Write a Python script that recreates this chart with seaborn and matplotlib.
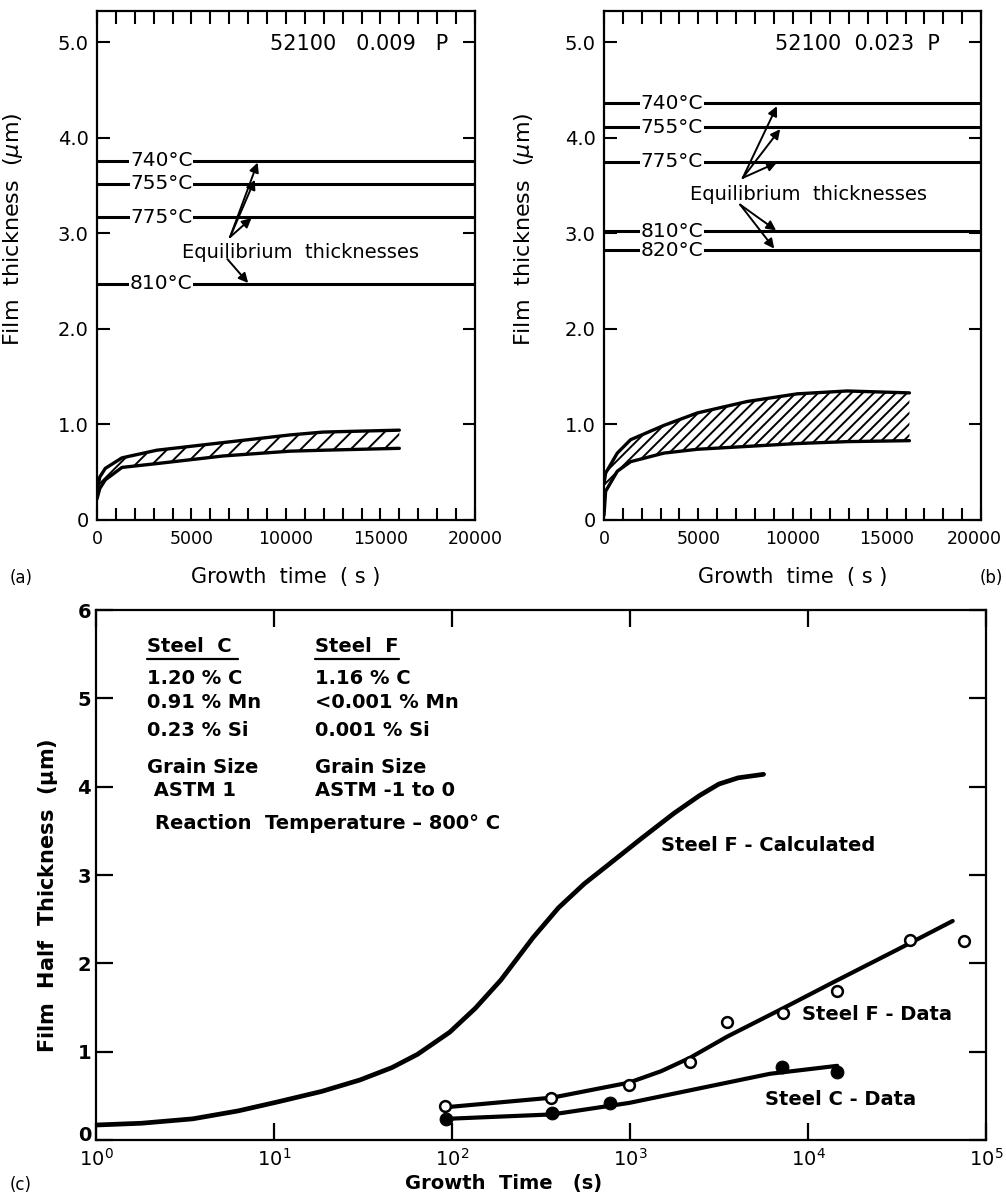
import numpy as np
import matplotlib
matplotlib.use("Agg")
import matplotlib.pyplot as plt
import matplotlib.transforms as mtransforms
import seaborn as sns
from matplotlib.ticker import MultipleLocator, FixedLocator, LogLocator, NullLocator

# ---- panel (a): 52100, 0.009 P ----
a_temps = ["740°C", "755°C", "775°C", "810°C"]
a_equil = [3.76, 3.52, 3.17, 2.47]
a_time = [0, 150, 440, 1320, 3160, 6680, 10210, 11970, 16000]
a_upper = [0.31, 0.45, 0.54, 0.65, 0.73, 0.81, 0.89, 0.92, 0.94]
a_lower = [0.22, 0.33, 0.42, 0.55, 0.59, 0.67, 0.72, 0.73, 0.75]

# ---- panel (b): 52100, 0.023 P ----
b_temps = ["740°C", "755°C", "775°C", "810°C", "820°C"]
b_equil = [4.36, 4.11, 3.75, 3.02, 2.82]
b_time = [0, 85, 705, 1410, 3180, 4950, 7600, 10250, 12900, 16200]
b_upper = [0.38, 0.49, 0.70, 0.84, 0.99, 1.12, 1.24, 1.32, 1.35, 1.33]
b_lower = [0.05, 0.30, 0.51, 0.61, 0.70, 0.74, 0.77, 0.80, 0.82, 0.83]

# ---- panel (c): steels C and F at 800 C ----
calc_time = [1.0, 1.8, 3.5, 6.3, 10.4, 18.5, 30.4, 46, 64, 97, 135, 188, 285,
             397, 553, 771, 1170, 1770, 2460, 3160, 4050, 5630]
calc_half = [0.17, 0.19, 0.24, 0.33, 0.43, 0.55, 0.68, 0.82, 0.97, 1.22, 1.49,
             1.81, 2.29, 2.63, 2.90, 3.13, 3.42, 3.70, 3.90, 4.03, 4.10, 4.14]
f_data_time = [91, 360, 990, 2170, 3510, 7220, 14600, 37300, 75500]
f_data_half = [0.39, 0.48, 0.62, 0.88, 1.34, 1.44, 1.69, 2.27, 2.25]
f_fit_time = [91, 366, 988, 1500, 2170, 3510, 7220, 14000, 32100, 65000]
f_fit_half = [0.37, 0.48, 0.65, 0.78, 0.93, 1.17, 1.49, 1.79, 2.16, 2.48]
c_data_time = [93, 366, 771, 7110, 14600]
c_data_half = [0.24, 0.31, 0.42, 0.83, 0.77]
c_fit_time = [93, 366, 988, 2670, 6120, 14600]
c_fit_half = [0.24, 0.29, 0.42, 0.60, 0.75, 0.84]

# composition table (col C, col F)
steel_rows = [("1.20 % C", "1.16 % C"),
              ("0.91 % Mn", "<0.001 % Mn"),
              ("0.23 % Si", "0.001 % Si")]
grain_rows = [("Grain Size", "Grain Size"), (" ASTM 1", "ASTM -1 to 0")]

# annotation anchors: (label x, text origin, arrow tips)
a_label_x = 3400
a_up_origin, a_up_tips = (7040, 2.96), [(8500, 3.74), (8350, 3.56), (8180, 3.16)]
a_dn_origin, a_dn_tips = (6900, 2.73), [(8000, 2.48)]
b_label_x = 3600
b_up_origin, b_up_tips = (7360, 3.58), [(9170, 4.33), (9345, 4.09), (9170, 3.74)]
b_dn_origin, b_dn_tips = (7220, 3.30), [(9130, 3.03), (9030, 2.84)]

sns.set_style("ticks")
plt.rcParams["font.family"] = ["DejaVu Sans"]
plt.rcParams["hatch.linewidth"] = 1.4
plt.rcParams["axes.linewidth"] = 1.6
plt.rcParams["mathtext.fontset"] = "dejavusans"
for key in ["text.color", "axes.labelcolor", "xtick.color", "ytick.color",
            "axes.edgecolor"]:
    plt.rcParams[key] = "black"

fig = plt.figure(figsize=(10.06, 11.94), dpi=100)
ax_a = fig.add_axes([0.0964, 0.5645, 0.3757, 0.4266])
ax_b = fig.add_axes([0.6004, 0.5645, 0.3748, 0.4266])
ax_c = fig.add_axes([0.0954, 0.0452, 0.8847, 0.4439])


def shift_label(lab, dx_px, dy_px):
    lab.set_transform(lab.get_transform() +
                      mtransforms.ScaledTranslation(dx_px / 100, dy_px / 100,
                                                    fig.dpi_scale_trans))


def top_panel(ax, temps, equil, t, up, lo, hatch, label_x, title, title_x,
              eq_xy, up_origin, up_tips, dn_origin, dn_tips, ylab_x):
    ax.hlines(equil, 0, 20000, color="black", lw=2.2, zorder=2)
    for name, y in zip(temps, equil):
        ax.text(label_x, y, name, ha="center", va="center", fontsize=14.5,
                zorder=3, bbox=dict(facecolor="white", edgecolor="none", pad=0.5))
    ax.fill_between(t, lo, up, facecolor="white", edgecolor="black",
                    hatch=hatch, lw=0, zorder=1)
    sns.lineplot(x=t, y=up, ax=ax, color="black", lw=2.4, sort=False, estimator=None)
    sns.lineplot(x=t, y=lo, ax=ax, color="black", lw=2.4, sort=False, estimator=None)
    for tip in up_tips:
        ax.annotate("", xy=tip, xytext=up_origin,
                    arrowprops=dict(arrowstyle="-|>", color="black", lw=1.4,
                                    mutation_scale=14, shrinkA=0, shrinkB=0))
    for tip in dn_tips:
        ax.annotate("", xy=tip, xytext=dn_origin,
                    arrowprops=dict(arrowstyle="-|>", color="black", lw=1.4,
                                    mutation_scale=14, shrinkA=0, shrinkB=0))
    ax.text(eq_xy[0], eq_xy[1], "Equilibrium  thicknesses", ha="left",
            va="center", fontsize=14)
    ax.text(title_x, 4.98, title, ha="left", va="center", fontsize=15)

    ax.set_xlim(0, 20000)
    ax.set_ylim(0, 5.33)
    ax.xaxis.set_major_locator(FixedLocator([0, 5000, 10000, 15000, 20000]))
    ax.xaxis.set_minor_locator(MultipleLocator(1000))
    ax.set_xticklabels(["0", "5000", "10000", "15000", "20000"])
    ax.yaxis.set_major_locator(FixedLocator([0, 1, 2, 3, 4, 5]))
    ax.set_yticklabels(["0", "1.0", "2.0", "3.0", "4.0", "5.0"])
    ax.tick_params(axis="both", which="both", direction="in", top=True,
                   right=True, width=1.5, labelsize=14)
    ax.tick_params(axis="x", which="both", length=9, pad=7, labelsize=12.5)
    ax.tick_params(axis="y", which="major", length=9, pad=6)
    ax.set_xlabel("Growth  time  ( s )", fontsize=15, labelpad=14)
    ax.set_ylabel("Film  thickness  ($\\mu$m)", fontsize=16)
    ax.yaxis.set_label_coords(ylab_x, 0.57)
    for s in ax.spines.values():
        s.set_visible(True)


top_panel(ax_a, a_temps, a_equil, a_time, a_upper, a_lower, "//", a_label_x,
          "52100   0.009   P", 9150, (4500, 2.80), a_up_origin, a_up_tips,
          a_dn_origin, a_dn_tips, -0.19)
top_panel(ax_b, b_temps, b_equil, b_time, b_upper, b_lower, "///", b_label_x,
          "52100  0.023  P", 9070, (4560, 3.41), b_up_origin, b_up_tips,
          b_dn_origin, b_dn_tips, -0.18)

# ---- bottom panel ----
ax = ax_c
sns.lineplot(x=calc_time, y=calc_half, ax=ax, color="black", lw=3.4,
             sort=False, estimator=None, solid_joinstyle="round")
sns.lineplot(x=f_fit_time, y=f_fit_half, ax=ax, color="black", lw=3.0,
             sort=False, estimator=None, solid_joinstyle="round")
sns.lineplot(x=c_fit_time, y=c_fit_half, ax=ax, color="black", lw=3.0,
             sort=False, estimator=None, solid_joinstyle="round")
sns.scatterplot(x=f_data_time, y=f_data_half, ax=ax, marker="o", s=60,
                facecolor="white", edgecolor="black", linewidth=1.8, zorder=4)
sns.scatterplot(x=c_data_time, y=c_data_half, ax=ax, marker="o", s=85,
                color="black", edgecolor="black", zorder=4)
ax.set_xscale("log")
ax.set_xlim(1, 1e5)
ax.set_ylim(0, 6)
ax.xaxis.set_major_locator(LogLocator(base=10, numticks=10))
ax.xaxis.set_minor_locator(NullLocator())
ax.yaxis.set_major_locator(FixedLocator([0, 1, 2, 3, 4, 5, 6]))
ax.tick_params(axis="both", which="both", direction="in", top=True, right=True,
               width=1.6, length=12, labelsize=14)
ax.tick_params(axis="x", pad=6)
fig.canvas.draw()
for lab in ax.get_yticklabels():
    lab.set_fontweight("bold")
# lift the "0" label a little off the corner, as in the original
shift_label(ax.get_yticklabels()[0], 0, 7)
# keep the last tick label of panel (b) inside the picture
shift_label(ax_b.get_xticklabels()[-1], -7, 0)
for s in ax.spines.values():
    s.set_visible(True)

ax.set_xlabel("Growth  Time   (s)", fontsize=14, fontweight="bold", labelpad=0)
ax.xaxis.set_label_coords(0.458, -0.065)
ax.set_ylabel("Film  Half  Thickness  ($\\mathbf{\\mu}$m)", fontsize=15,
              fontweight="bold")
ax.yaxis.set_label_coords(-0.04, 0.46)

tf = ax.transAxes
txt = dict(fontsize=14, fontweight="bold", va="center", ha="left", transform=tf)
ax.text(0.0576, 5.59 / 6, "Steel  C", **txt)
ax.text(0.246, 5.59 / 6, "Steel  F", **txt)
ax.plot([0.0576, 0.160], [5.45 / 6, 5.45 / 6], color="black", lw=1.6, transform=tf)
ax.plot([0.246, 0.340], [5.45 / 6, 5.45 / 6], color="black", lw=1.6, transform=tf)
for (c_txt, f_txt), yy in zip(steel_rows, [5.23, 4.95, 4.64]):
    ax.text(0.0576, yy / 6, c_txt, **txt)
    ax.text(0.246, yy / 6, f_txt, **txt)
for (c_txt, f_txt), yy in zip(grain_rows, [4.22, 3.96]):
    ax.text(0.0576, yy / 6, c_txt, **txt)
    ax.text(0.246, yy / 6, f_txt, **txt)
ax.text(0.066, 3.58 / 6, "Reaction  Temperature – 800° C", **txt)

lab = dict(fontsize=14, fontweight="bold", va="center", ha="left")
ax.text(1497, 3.33, "Steel F - Calculated", **lab)
ax.text(9270, 1.42, "Steel F - Data", **lab)
ax.text(5730, 0.46, "Steel C - Data", **lab)

fig.text(10 / 1006, 1 - 578 / 1194, "(a)", fontsize=12, va="center")
fig.text(1003 / 1006, 1 - 578 / 1194, "(b)", fontsize=12, va="center", ha="right")
fig.text(10 / 1006, 1 - 1185 / 1194, "(c)", fontsize=12, va="center")

fig.savefig("out.png", dpi=100)
plt.close(fig)
